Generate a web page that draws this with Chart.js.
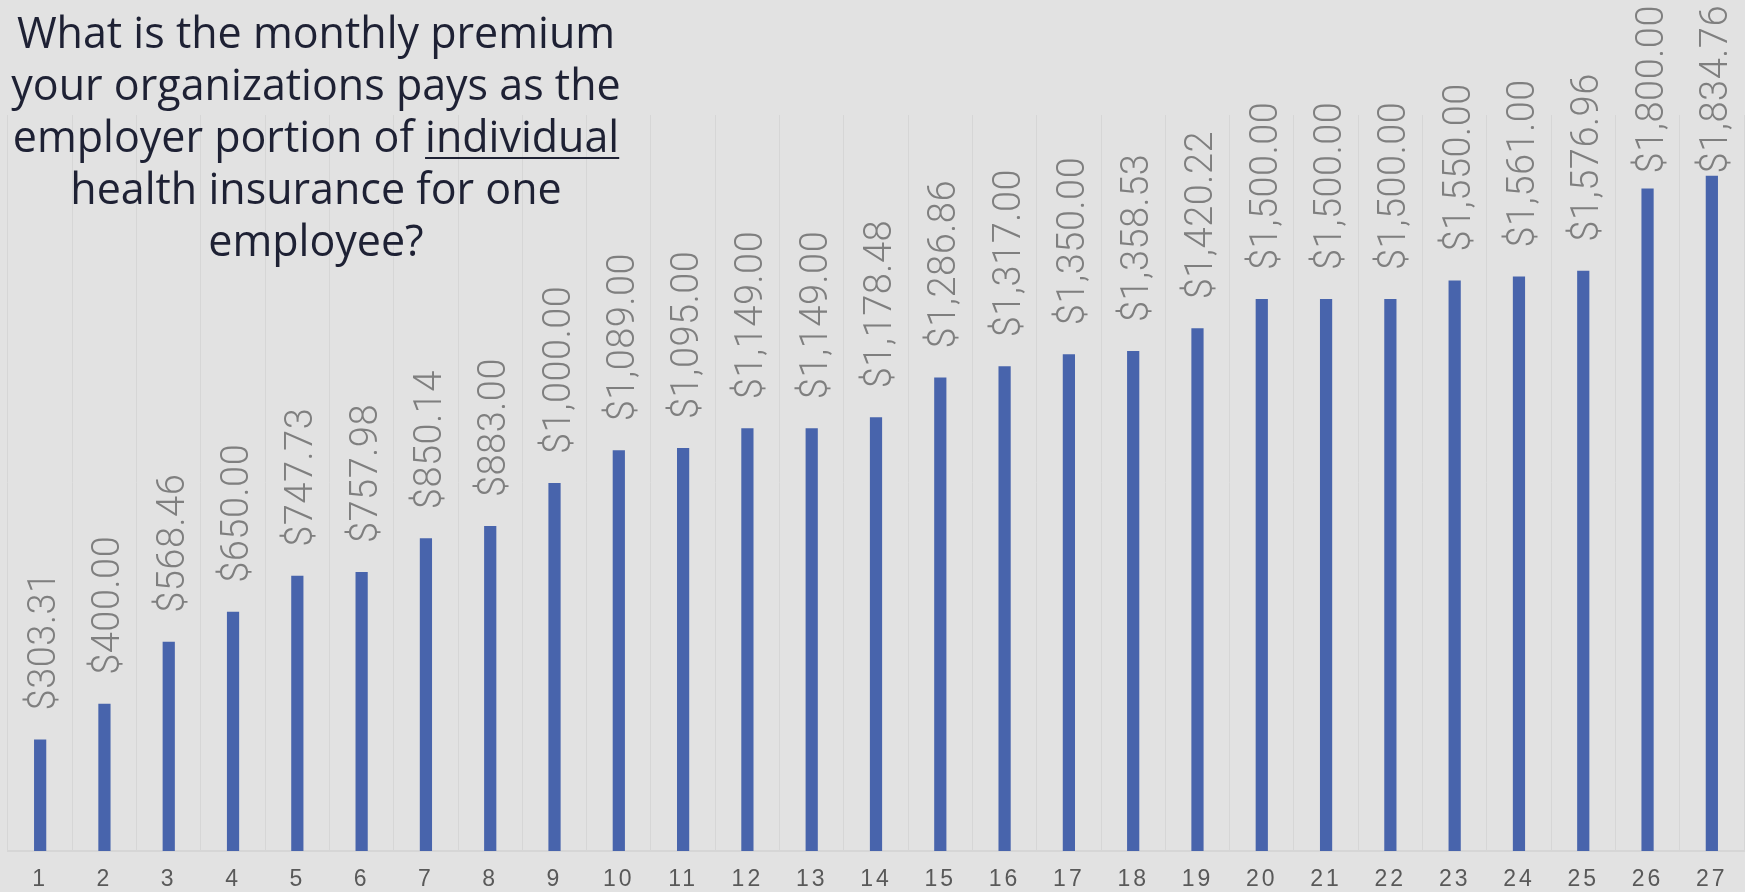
<!DOCTYPE html>
<html>
<head>
<meta charset="utf-8">
<script src="https://cdn.jsdelivr.net/npm/chart.js@4/dist/chart.umd.min.js"></script>
<style>
  html, body { margin: 0; padding: 0; background: #e2e2e2; width: 1745px; height: 892px; overflow: hidden; }
  #wrap { position: relative; width: 1745px; height: 892px; }
  canvas { position: absolute; left: 0; top: 0; }
  #title {
    position: absolute; left: 0; top: 6px; width: 632px;
    text-align: center; color: #1e2134;
    font-family: "Open Sans", sans-serif; font-size: 43px; line-height: 52px;
    font-weight: 400;
  }
  #title u { text-decoration-thickness: 2px; text-underline-offset: 5px; }
</style>
</head>
<body>
<div id="wrap">
  <canvas id="c" width="1745" height="892"></canvas>
  <div id="title">What is the monthly premium<br>your organizations pays as the<br>employer portion of <u>individual</u><br>health insurance for one<br>employee?</div>
</div>
<script>
const categories = ["1","2","3","4","5","6","7","8","9","10","11","12","13","14","15","16","17","18","19","20","21","22","23","24","25","26","27"];
const premiums = [303.31, 400.00, 568.46, 650.00, 747.73, 757.98, 850.14, 883.00, 1000.00, 1089.00, 1095.00, 1149.00, 1149.00, 1178.48, 1286.86, 1317.00, 1350.00, 1358.53, 1420.22, 1500.00, 1500.00, 1500.00, 1550.00, 1561.00, 1576.96, 1800.00, 1834.76];
const yMin = 0;
const yMax = 2000;

function fmt(v) {
  return '$' + v.toLocaleString('en-US', { minimumFractionDigits: 2, maximumFractionDigits: 2 });
}

const spacing = {
  id: 'spacing',
  beforeDraw(chart) { chart.ctx.letterSpacing = '3px'; },
  beforeDatasetsDraw(chart) { chart.ctx.letterSpacing = '0px'; }
};

const valueLabels = {
  id: 'valueLabels',
  afterDatasetsDraw(chart) {
    const ctx = chart.ctx;
    const meta = chart.getDatasetMeta(0);
    ctx.save();
    ctx.letterSpacing = '0.5px';
    ctx.font = '300 38px Roboto, "Liberation Sans", sans-serif';
    ctx.fillStyle = '#7f7f7f';
    ctx.textAlign = 'left';
    ctx.textBaseline = 'alphabetic';
    meta.data.forEach((bar, i) => {
      const txt = fmt(chart.data.datasets[0].data[i]);
      const w = ctx.measureText(txt).width;
      let start = bar.y - 29;
      if (start - w < 5) start = 5 + w;
      ctx.save();
      ctx.translate(bar.x + 15, start);
      ctx.rotate(-Math.PI / 2);
      ctx.fillText(txt, 0, 0);
      ctx.restore();
    });
    ctx.restore();
  }
};

new Chart(document.getElementById('c'), {
  type: 'bar',
  data: {
    labels: categories,
    datasets: [{
      data: premiums,
      backgroundColor: '#4864ac',
      borderWidth: 0,
      categoryPercentage: 1.0,
      barPercentage: 0.19
    }]
  },
  options: {
    responsive: false,
    devicePixelRatio: 1,
    animation: false,
    layout: { padding: { left: 8, right: 1, top: 115, bottom: 0 } },
    plugins: { legend: { display: false }, title: { display: false }, tooltip: { enabled: false } },
    scales: {
      y: { display: false, min: yMin, max: yMax },
      x: {
        afterFit(scale) { scale.height = 41; },
        grid: { color: '#d6d6d6', lineWidth: 1, drawTicks: false, offset: true },
        border: { display: true, color: '#d6d6d6', width: 2 },
        ticks: {
          color: '#595959',
          font: { family: '"Liberation Sans", sans-serif', size: 23 },
          padding: 15,
          maxRotation: 0,
          autoSkip: false
        }
      }
    }
  },
  plugins: [spacing, valueLabels]
});
</script>
</body>
</html>
